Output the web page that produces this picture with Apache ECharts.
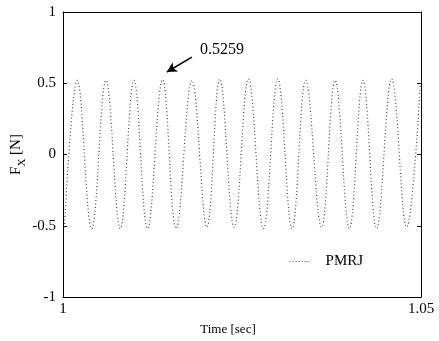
<!DOCTYPE html>
<html><head><meta charset="utf-8">
<script src="https://cdn.jsdelivr.net/npm/echarts@6/dist/echarts.min.js"></script>
<style>html,body{margin:0;padding:0;background:#fff}#c{width:439px;height:341px}</style>
</head><body><div id="c"></div>
<script>
// Data
var peakTimes   = [1.0020, 1.0060, 1.0099, 1.0139, 1.0180, 1.0219, 1.0259, 1.0300, 1.0339, 1.0380, 1.0419, 1.0459, 1.0499];
var peakValues  = [0.52, 0.52, 0.52, 0.5259, 0.52, 0.53, 0.53, 0.53, 0.52, 0.52, 0.52, 0.53, 0.50];
var troughTimes = [1.0002, 1.0040, 1.0080, 1.0118, 1.0158, 1.0201, 1.0239, 1.0280, 1.0320, 1.0361, 1.0400, 1.0438, 1.0480];
var troughValues= [-0.51, -0.52, -0.52, -0.52, -0.52, -0.51, -0.51, -0.52, -0.52, -0.51, -0.52, -0.52, -0.51];
var xTickLabels = ['1', '1.05'];
var yTickLabels = ['-1', '-0.5', '0', '0.5', '1'];
var annotation = {text: '0.5259', labelAt: [1.0222, 0.733], arrowFrom: [1.0180, 0.684], arrowTo: [1.0145, 0.579]};

var pts = [];
for (var i = 0; i < peakTimes.length; i++) pts.push([peakTimes[i], peakValues[i]]);
for (var j = 0; j < troughTimes.length; j++) pts.push([troughTimes[j], troughValues[j]]);
pts.sort(function(a, b){ return a[0] - b[0]; });

var font = 'Liberation Serif';
var chart = echarts.init(document.getElementById('c'));
chart.setOption({
  animation: false,
  backgroundColor: '#fff',
  grid: {left: 63, right: 18, top: 12, bottom: 44, containLabel: false, outerBoundsMode: 'none'},
  legend: {
    data: ['PMRJ'], left: 284, top: 249, itemWidth: 21, itemHeight: 10, itemGap: 10,
    itemStyle: {opacity: 0, borderWidth: 0},
    lineStyle: {color: '#444', width: 1.2, type: [1, 2], opacity: 1},
    textStyle: {fontFamily: font, fontSize: 15, color: '#000', padding: [0, 0, 0, 10]}
  },
  xAxis: [{
    type: 'value', min: 1, max: 1.05, interval: 0.05,
    name: 'Time [sec]', nameLocation: 'middle', nameGap: 26, nameMoveOverlap: false,
    nameTextStyle: {fontFamily: font, fontSize: 13, color: '#000', padding: [0, 28, 0, 0]},
    axisLine: {onZero: false, lineStyle: {color: '#000', width: 1}},
    axisTick: {inside: true, length: 4, lineStyle: {color: '#000'}},
    axisLabel: {fontFamily: font, fontSize: 15, color: '#000', margin: 5,
      formatter: function(v){ return Math.abs(v-1) < 1e-9 ? xTickLabels[0] : xTickLabels[1]; }},
    splitLine: {show: false}
  }, {
    type: 'value', position: 'top', min: 1, max: 1.05, interval: 0.05,
    axisLine: {onZero: false, lineStyle: {color: '#000', width: 1}},
    axisTick: {show: false}, axisLabel: {show: false}, splitLine: {show: false}
  }],
  yAxis: [{
    type: 'value', min: -1, max: 1, interval: 0.5,
    name: '{a|F}{b|X}{a| [N]}', nameLocation: 'middle', nameGap: 39, nameRotate: 90, nameMoveOverlap: false,
    nameTextStyle: {rich: {
      a: {fontFamily: font, fontSize: 15, color: '#000', verticalAlign: 'bottom'},
      b: {fontFamily: font, fontSize: 11, color: '#000', verticalAlign: 'bottom', padding: [0,0,-4,0]}
    }},
    axisLine: {onZero: false, lineStyle: {color: '#000', width: 1}},
    axisTick: {inside: true, length: 4, lineStyle: {color: '#000'}},
    axisLabel: {fontFamily: font, fontSize: 15, color: '#000', margin: 7,
      formatter: function(v){ return yTickLabels[Math.round((v + 1) / 0.5)]; }},
    splitLine: {show: false}
  }, {
    type: 'value', position: 'right', min: -1, max: 1, interval: 0.5,
    axisLine: {onZero: false, lineStyle: {color: '#000', width: 1}},
    axisTick: {inside: true, length: 4, lineStyle: {color: '#000'}},
    axisLabel: {show: false}, splitLine: {show: false}
  }],
  series: [{
    name: 'PMRJ', type: 'line', data: pts, smooth: 0.4, showSymbol: false, symbol: 'none',
    lineStyle: {color: '#444', width: 1.2, type: [1, 2.5]},
    itemStyle: {color: '#444'},
    markLine: {
      silent: true, symbol: ['none', 'arrow'], symbolSize: [8, 10],
      lineStyle: {color: '#000', width: 1.5, type: 'solid'},
      label: {show: false},
      data: [[{coord: annotation.arrowFrom}, {coord: annotation.arrowTo}]]
    },
    markPoint: {
      silent: true, symbol: 'circle', symbolSize: 0,
      label: {show: true, formatter: annotation.text, fontFamily: font, fontSize: 16, color: '#000', position: 'inside'},
      data: [{coord: annotation.labelAt}]
    }
  }]
});
</script></body></html>
